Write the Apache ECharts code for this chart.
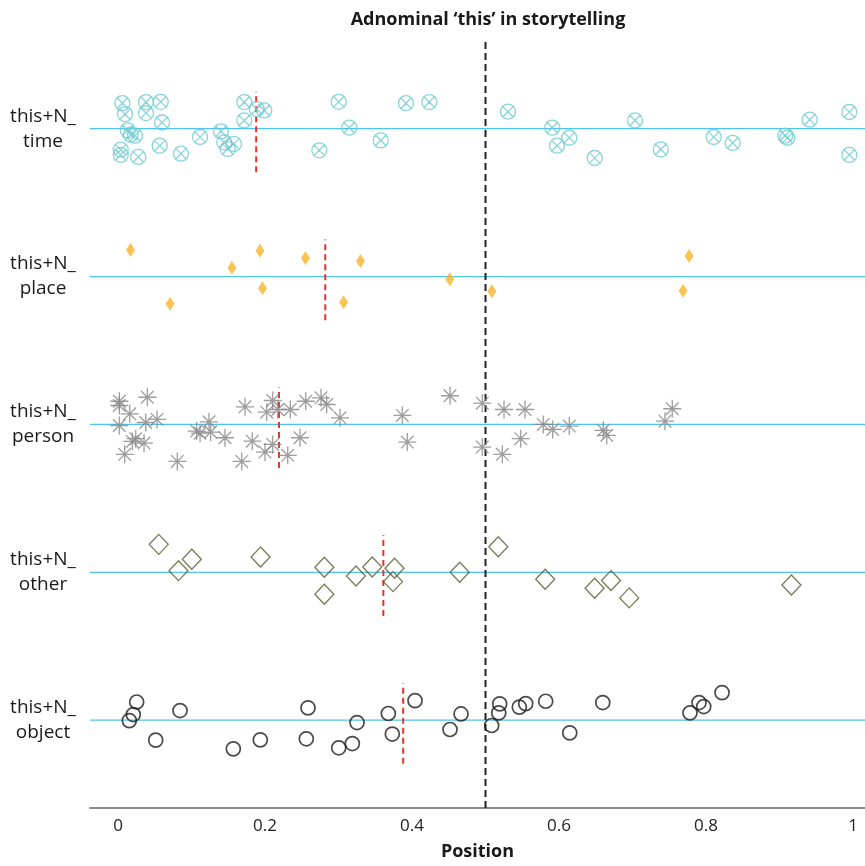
<!DOCTYPE html>
<html>
<head>
<meta charset="utf-8">
<script src="https://cdn.jsdelivr.net/npm/echarts@6/dist/echarts.min.js"></script>
<style>html,body{margin:0;padding:0;background:#fff}#c{width:865px;height:866px}</style>
</head>
<body>
<div id="c"></div>
<script>
// ---- data ----
const categories = ['time', 'place', 'person', 'other', 'object'];
const rowLabels = ['this+N_\ntime', 'this+N_\nplace', 'this+N_\nperson', 'this+N_\nother', 'this+N_\nobject'];
const rowValues = [5, 4, 3, 2, 1];
const tickValues = [0, 0.2, 0.4, 0.6, 0.8, 1];
const tickLabels = ['0', '0.2', '0.4', '0.6', '0.8', '1'];
const meanPositions = [0.188, 0.282, 0.219, 0.361, 0.388];
const midpoint = 0.5;

const timeX = [0.0059,0.0095,0.0381,0.0581,0.0381,0.0599,0.0132,0.0173,0.0231,0.0037,0.0037,0.0276,0.0567,0.0857,0.1116,0.1401,0.1446,0.1578,0.1493,0.1718,0.1718,0.1887,0.1990,0.3003,0.3147,0.2739,0.3574,0.3918,0.4235,0.5306,0.5909,0.5973,0.6140,0.6486,0.7034,0.7384,0.8105,0.8363,0.9079,0.9106,0.9411,0.9950,0.9950];
const timeJitter = [0.173,0.099,0.180,0.182,0.106,0.042,-0.011,-0.040,-0.047,-0.142,-0.177,-0.191,-0.115,-0.169,-0.056,-0.018,-0.092,-0.103,-0.137,0.180,0.056,0.133,0.124,0.182,0.007,-0.146,-0.079,0.173,0.180,0.115,0.007,-0.115,-0.061,-0.198,0.056,-0.140,-0.056,-0.096,-0.047,-0.061,0.061,0.113,-0.177];

const placeX = [0.0170,0.0709,0.1550,0.1932,0.1966,0.2551,0.3069,0.3298,0.4514,0.5086,0.7770,0.7688];
const placeJitter = [0.180,-0.184,0.059,0.175,-0.079,0.126,-0.173,0.106,-0.018,-0.099,0.140,-0.096];

const personX = [0.0018,0.0018,0.0159,0.0399,0.0018,0.0377,0.0531,0.0241,0.0195,0.0354,0.0091,0.0807,0.1071,0.1116,0.1238,0.1261,0.1456,0.1683,0.1827,0.1728,0.2000,0.2105,0.2023,0.2105,0.2173,0.2344,0.2309,0.2476,0.2554,0.2762,0.2839,0.3020,0.3868,0.3936,0.4517,0.4956,0.4956,0.5252,0.5537,0.5229,0.5479,0.5786,0.5914,0.6140,0.6603,0.6649,0.7442,0.7541];
const personJitter = [0.157,0.128,0.072,0.184,-0.007,0.013,0.034,-0.096,-0.115,-0.126,-0.202,-0.250,-0.045,-0.059,0.018,-0.052,-0.090,-0.250,-0.113,0.119,-0.187,-0.135,0.083,0.162,0.101,0.101,-0.209,-0.090,0.157,0.180,0.135,0.045,0.061,-0.119,0.194,0.144,-0.153,0.101,0.101,-0.202,-0.096,0.000,-0.034,-0.011,-0.040,-0.074,0.022,0.106];

const otherX = [0.0554,0.1004,0.0823,0.1939,0.2807,0.2807,0.3237,0.3459,0.3762,0.3741,0.4649,0.5174,0.5812,0.6484,0.6707,0.6955,0.9162];
const otherJitter = [0.189,0.088,0.011,0.103,0.034,-0.148,-0.025,0.036,0.027,-0.063,0.000,0.173,-0.047,-0.108,-0.056,-0.173,-0.086];

const objectX = [0.0254,0.0208,0.0154,0.0513,0.0844,0.1569,0.1936,0.2585,0.2562,0.3003,0.3188,0.3252,0.3678,0.3732,0.4041,0.4517,0.4667,0.5084,0.5180,0.5193,0.5460,0.5547,0.5819,0.6146,0.6595,0.7782,0.7905,0.7969,0.8218];
const objectJitter = [0.123,0.038,-0.003,-0.135,0.065,-0.194,-0.133,0.083,-0.126,-0.187,-0.158,-0.016,0.045,-0.094,0.132,-0.063,0.042,-0.036,0.049,0.110,0.088,0.112,0.128,-0.086,0.119,0.049,0.119,0.092,0.186];

const meanUp = 0.25, meanDown = 0.295;
const X_MIN = -0.0381, X_MAX = 1.0163;

// ---- styling ----
const FONT = '"Open Sans", "Noto Sans", sans-serif';
const circleX = 'path://M0,10 A10,10 0 1,1 20,10 A10,10 0 1,1 0,10 Z M2.2,2.2 L17.8,17.8 M17.8,2.2 L2.2,17.8';
const asterisk = 'path://M0,10 L20,10 M10,0 L10,20 M3,3 L17,17 M17,3 L3,17';

const groups = [
  {x: timeX, j: timeJitter, symbol: circleX, size: 15, style: {color: 'transparent', borderColor: '#6ccbcf', borderWidth: 1.3}},
  {x: placeX, j: placeJitter, symbol: 'diamond', size: [9, 14], style: {color: '#f8b52c', borderWidth: 0}},
  {x: personX, j: personJitter, symbol: asterisk, size: 18, style: {color: 'transparent', borderColor: '#858585', borderWidth: 1.3}},
  {x: otherX, j: otherJitter, symbol: 'diamond', size: [19, 20], style: {color: 'transparent', borderColor: '#4d5b2c', borderWidth: 1.3}},
  {x: objectX, j: objectJitter, symbol: 'circle', size: 14, style: {color: 'transparent', borderColor: '#1d1d1d', borderWidth: 1.7}}
];

const series = [];
groups.forEach((g, i) => {
  const row = rowValues[i];
  series.push({
    name: categories[i] + ' baseline',
    type: 'line',
    symbol: 'none',
    silent: true,
    z: 1,
    lineStyle: {color: '#4fc3ec', width: 1.3, type: 'solid'},
    itemStyle: {color: '#4fc3ec'},
    data: [[X_MIN, row], [X_MAX, row]]
  });
  series.push({
    name: categories[i],
    type: 'scatter',
    symbol: g.symbol,
    symbolSize: g.size,
    itemStyle: g.style,
    z: 3,
    silent: true,
    data: g.x.map((v, k) => [v, row + g.j[k]])
  });
  series.push({
    name: categories[i] + ' mean',
    type: 'line',
    symbol: 'none',
    silent: true,
    z: 2,
    lineStyle: {color: '#e8312a', width: 2, type: [6, 4]},
    itemStyle: {color: '#e8312a'},
    data: [[meanPositions[i], row - meanDown], [meanPositions[i], row + meanUp]]
  });
});
series.push({
  name: 'midpoint',
  type: 'line',
  symbol: 'none',
  silent: true,
  z: 2,
  lineStyle: {color: '#222', width: 2, type: [7, 4]},
  itemStyle: {color: '#222'},
  data: [[midpoint, 0.406], [midpoint, 5.6]]
});

const chart = echarts.init(document.getElementById('c'), null, {renderer: 'canvas'});
chart.setOption({
  animation: false,
  backgroundColor: '#fff',
  title: {
    text: 'Adnominal \u2018this\u2019 in storytelling',
    left: 483, top: 6, textAlign: 'center',
    textStyle: {fontFamily: FONT, fontSize: 18, fontWeight: 'bold', color: '#1a1a1a'}
  },
  grid: {left: 90, right: 0, top: 40, bottom: 56},
  xAxis: {
    type: 'value',
    min: X_MIN, max: X_MAX,
    name: 'Position', nameLocation: 'middle', nameGap: 35,
    nameTextStyle: {fontFamily: FONT, fontSize: 18, fontWeight: 'bold', color: '#1a1a1a'},
    axisLine: {show: true, lineStyle: {color: '#8a8a8a', width: 2}},
    axisTick: {show: false},
    splitLine: {show: false},
    axisLabel: {
      customValues: tickValues, margin: 10,
      fontFamily: FONT, fontSize: 17, color: '#222',
      formatter: v => { const k = tickValues.findIndex(t => Math.abs(t - v) < 1e-6); return k >= 0 ? tickLabels[k] : ''; }
    }
  },
  yAxis: {
    type: 'value',
    min: 0.406, max: 5.6,
    axisLine: {show: false},
    axisTick: {show: false},
    splitLine: {show: false},
    axisLabel: {
      customValues: rowValues, margin: 47, align: 'center',
      fontFamily: FONT, fontSize: 19, lineHeight: 25, color: '#1a1a1a',
      formatter: v => { const k = rowValues.findIndex(t => Math.abs(t - v) < 1e-6); return k >= 0 ? rowLabels[k] : ''; }
    }
  },
  series: series
});
</script>
</body>
</html>
